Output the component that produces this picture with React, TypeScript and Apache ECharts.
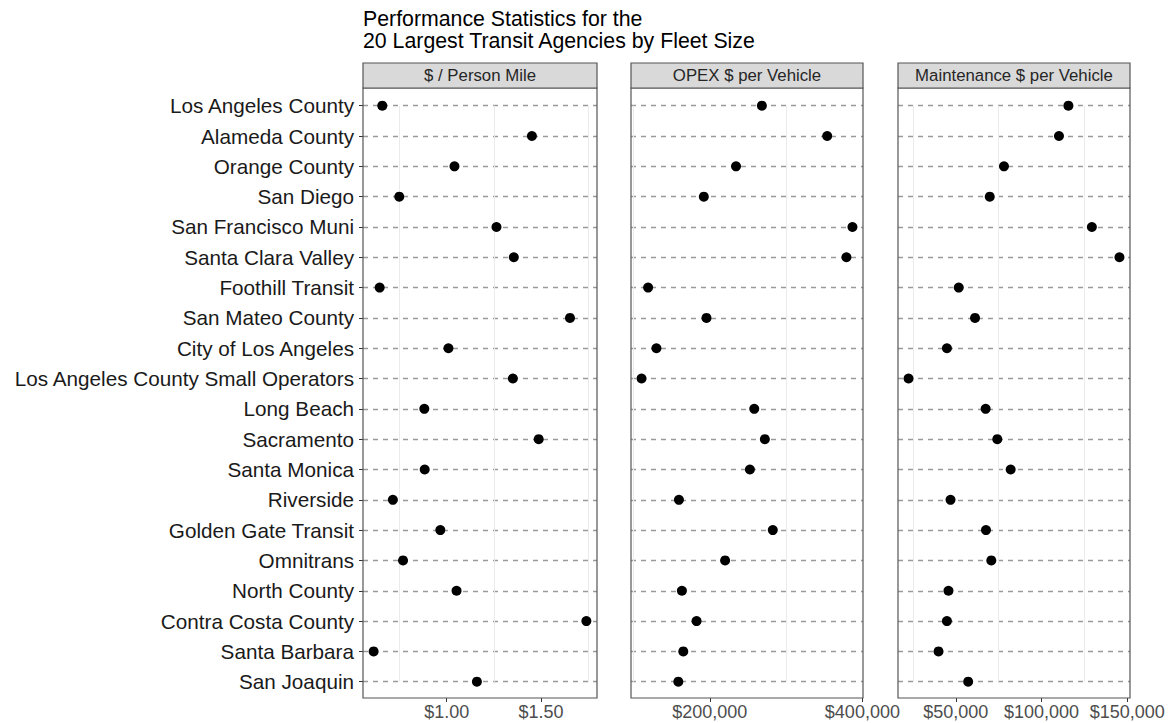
import React, { useEffect, useRef } from "react";
import * as echarts from "echarts";

const agencies = [
  "Los Angeles County",
  "Alameda County",
  "Orange County",
  "San Diego",
  "San Francisco Muni",
  "Santa Clara Valley",
  "Foothill Transit",
  "San Mateo County",
  "City of Los Angeles",
  "Los Angeles County Small Operators",
  "Long Beach",
  "Sacramento",
  "Santa Monica",
  "Riverside",
  "Golden Gate Transit",
  "Omnitrans",
  "North County",
  "Contra Costa County",
  "Santa Barbara",
  "San Joaquin",
];

const costPerPersonMile = [
  0.658, 1.452, 1.041, 0.748, 1.264, 1.356, 0.644, 1.654, 1.009, 1.351,
  0.881, 1.488, 0.883, 0.714, 0.966, 0.768, 1.052, 1.741, 0.612, 1.16,
];
const opexPerVehicle = [
  268300, 353900, 234400, 192200, 387000, 379100, 119200, 195700, 130100, 110600,
  258300, 272200, 252600, 159600, 282600, 220100, 163500, 182700, 165300, 158800,
];
const maintPerVehicle = [
  115700, 110200, 78100, 69800, 129400, 145500, 51700, 61200, 44800, 22400,
  67400, 74200, 82000, 46900, 67600, 70700, 45700, 44800, 39900, 57200,
];

const panelTitles = ["$ / Person Mile", "OPEX $ per Vehicle", "Maintenance $ per Vehicle"];
const majorTicks = [[1, 1.5], [200000, 400000], [50000, 100000, 150000]];
const minorTicks = [[0.75, 1.25, 1.75], [100000, 300000], [25000, 75000, 125000]];
const titleLines = ["Performance Statistics for the", "20 Largest Transit Agencies by Fleet Size"];

const FONT = "Liberation Sans, Arial, Helvetica, sans-serif";
const panelLefts = [363, 631, 898];
const panelWidths = [234, 232, 232];
const panelTop = 88;
const panelBottom = 698;
const stripTop = 63;
const rowFirst = 105.7;
const rowLast = 681.7;

function extent(vals: number[]): [number, number] {
  const lo = Math.min(...vals);
  const hi = Math.max(...vals);
  const pad = (hi - lo) * 0.05;
  return [lo - pad, hi + pad];
}

const fmtMoney = (v: number, i: number) =>
  i === 0 ? "$" + v.toFixed(2) : "$" + Math.round(v).toLocaleString("en-US");

export default function App() {
  const ref = useRef<HTMLDivElement>(null);
  useEffect(() => {
    if (!ref.current) return;
    const chart = echarts.init(ref.current, null, { renderer: "svg" });
    const seriesVals = [costPerPersonMile, opexPerVehicle, maintPerVehicle];

    const grids = panelLefts.map((l, i) => ({
      left: l,
      width: panelWidths[i],
      top: rowFirst,
      height: rowLast - rowFirst,
      containLabel: false,
    }));

    const xAxes = seriesVals.map((vals, i) => {
      const [mn, mx] = extent(vals);
      return {
        type: "value",
        gridIndex: i,
        min: mn,
        max: mx,
        offset: panelBottom - rowLast,
        axisLine: { show: false },
        axisTick: {
          show: true,
          length: 4,
          customValues: majorTicks[i],
          lineStyle: { color: "#333", width: 1 },
        },
        axisLabel: {
          show: true,
          customValues: majorTicks[i],
          formatter: (v: number) => fmtMoney(v, i),
          fontFamily: FONT,
          fontSize: 18,
          color: "#4d4d4d",
          margin: 5,
        },
        splitLine: { show: false },
      };
    });

    const yAxes = seriesVals.map((_, i) => ({
      type: "category",
      gridIndex: i,
      data: agencies,
      inverse: true,
      boundaryGap: false,
      axisLine: { show: false },
      axisTick: {
        show: i === 0,
        length: 4,
        interval: 0,
        lineStyle: { color: "#333", width: 1 },
      },
      axisLabel: {
        show: i === 0,
        interval: 0,
        fontFamily: FONT,
        fontSize: 20.7,
        color: "#1a1a1a",
        margin: 9,
      },
      splitLine: {
        show: true,
        interval: 0,
        lineStyle: { color: "#9a9a9a", width: 1.4, type: [5, 5] },
      },
    }));

    const series = seriesVals.map((vals, i) => ({
      type: "scatter",
      xAxisIndex: i,
      yAxisIndex: i,
      symbol: "circle",
      symbolSize: 10,
      itemStyle: { color: "#000", opacity: 1 },
      data: vals.map((v, k) => [v, k]),
      z: 5,
      markLine: {
        silent: true,
        symbol: "none",
        label: { show: false },
        lineStyle: { color: "#ebebeb", width: 1, type: "solid" },
        data: minorTicks[i].map((m) => ({ xAxis: m })),
        z: 1,
      },
    }));

    const graphics: any[] = [];
    titleLines.forEach((t, k) => {
      graphics.push({
        type: "text",
        x: panelLefts[0],
        y: 8 + k * 22.5,
        style: {
          text: t,
          fontFamily: FONT,
          fontSize: 21.3,
          fill: "#000",
          align: "left",
          verticalAlign: "top",
        },
      });
    });
    panelLefts.forEach((l, i) => {
      graphics.push({
        type: "rect",
        shape: { x: l, y: panelTop, width: panelWidths[i], height: panelBottom - panelTop },
        style: { fill: "none", stroke: "#555", lineWidth: 1.2 },
        z: 10,
      });
      graphics.push({
        type: "rect",
        shape: { x: l, y: stripTop, width: panelWidths[i], height: panelTop - stripTop },
        style: { fill: "#d9d9d9", stroke: "#555", lineWidth: 1.2 },
        z: 10,
      });
      graphics.push({
        type: "text",
        x: l + panelWidths[i] / 2,
        y: (stripTop + panelTop) / 2,
        style: {
          text: panelTitles[i],
          fontFamily: FONT,
          fontSize: 16.8,
          fill: "#262626",
          align: "center",
          verticalAlign: "middle",
        },
        z: 11,
      });
    });

    chart.setOption({
      animation: false,
      backgroundColor: "#fff",
      grid: grids,
      xAxis: xAxes,
      yAxis: yAxes,
      series,
      graphic: graphics,
    });
    return () => chart.dispose();
  }, []);
  return (
    <div
      ref={ref}
      style={{ position: "absolute", left: 0, top: 0, width: 1172, height: 723 }}
    />
  );
}
